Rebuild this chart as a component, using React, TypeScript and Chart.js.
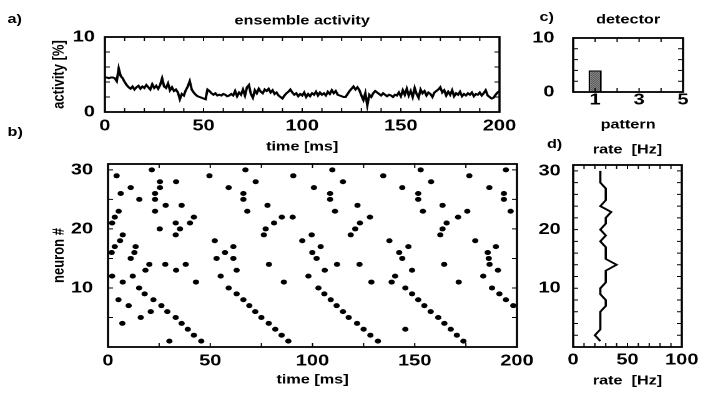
import React, { useEffect, useRef } from "react";
import { Chart, registerables } from "chart.js";

Chart.register(...registerables);

const FONT = '"Liberation Sans", Arial, Helvetica, sans-serif';
const W = 575;
const H = 398;
const STRETCH = 718 / W;

// ---------- a) ensemble activity (1 ms steps, 0..200 ms) ----------
const activityPct = [
  4.6, 4.6, 4.5, 4.6, 4.6, 4.5, 4.1, 5.8, 4.8, 4.5,
  4.0, 3.6, 3.3, 3.1, 3.4, 3.0, 3.3, 3.5, 3.1, 3.4,
  3.2, 3.6, 3.3, 3.0, 3.7, 3.2, 3.5, 3.1, 3.6, 4.5,
  3.4, 3.2, 3.8, 2.9, 3.3, 2.8, 3.0, 2.6, 1.7, 2.4,
  2.2, 2.9, 3.4, 4.1, 3.0, 2.6, 2.3, 2.1, 2.0, 1.9,
  1.8, 1.7, 3.0, 2.8, 2.5, 2.3, 2.5, 2.2, 2.3, 2.2,
  2.4, 2.3, 2.1, 2.2, 2.4, 2.2, 2.8, 2.1, 2.6, 2.3,
  3.0, 2.2, 3.3, 3.6, 2.4, 1.9, 2.9, 2.5, 3.1, 2.7,
  2.5, 3.0, 2.8, 3.1, 2.6, 2.9, 2.4, 2.6, 2.2, 2.0,
  1.8, 2.2, 2.5, 2.7, 3.0, 2.6, 2.3, 2.5, 2.1, 2.4,
  2.2, 2.6, 2.0, 2.4, 2.1, 2.5, 2.3, 2.7, 2.2, 2.6,
  2.3, 2.5, 2.2, 2.7, 2.4, 2.9, 2.5, 2.8, 2.3, 2.2,
  2.1, 2.0, 2.0, 2.4, 2.8, 3.1, 3.4, 3.0, 3.3, 2.9,
  2.2, 1.6, 2.5, 0.9, 2.3, 2.0, 2.5, 2.8, 2.6, 2.4,
  2.2, 2.5, 2.3, 2.1, 2.3, 2.2, 2.0, 2.3, 2.2, 2.6,
  2.1, 2.9, 2.3, 3.1, 2.2, 2.8, 2.0, 3.2, 2.4, 1.9,
  3.0, 2.5, 2.8, 2.2, 2.6, 2.4, 2.0, 2.6, 2.8, 3.0,
  3.3, 2.6, 2.9, 2.2, 2.7, 2.3, 2.9, 2.1, 2.5, 2.3,
  2.7, 2.1, 2.4, 2.2, 2.5, 2.3, 2.6, 2.1, 2.4, 2.3,
  2.6, 2.2, 2.5, 2.9, 2.2, 2.0, 1.8, 1.9, 2.3, 2.6,
  2.8,
];
const timeMs = activityPct.map((_, i) => i);
const timeTicks = [0, 50, 100, 150, 200];
const activityTicks = [0, 10];

// ---------- b) raster: spike times (ms) for neurons 1..30 ----------
const neuronIds = [
  1, 2, 3, 4, 5, 6, 7, 8, 9, 10, 11, 12, 13, 14, 15,
  16, 17, 18, 19, 20, 21, 22, 23, 24, 25, 26, 27, 28, 29, 30,
];
const spikeTimes = [
  [30, 45.6, 88.2, 132, 173.8],
  [42, 84.9, 128.3, 170.6],
  [39, 81.8, 125, 145.4, 167.6],
  [7, 36, 78.6, 121.8, 164.5],
  [16, 33.1, 75, 117.7, 161.5],
  [20.9, 29, 72, 114.9, 157.8],
  [10.1, 26.1, 69.1, 111.8, 154.7, 198.2],
  [5.1, 22.2, 66.2, 108.9, 151.7, 194.6],
  [17.9, 62.9, 105.8, 148.7, 191.4],
  [15.2, 59, 102.9, 145.4, 187.8],
  [7.2, 43, 86, 128.8, 138.7, 171.5],
  [2, 12.1, 55.1, 98, 140.4, 183.5],
  [18.3, 33.3, 62.9, 106, 148.7, 190.7],
  [20.2, 28, 38, 78.7, 112, 123, 164.4, 186.6],
  [11.1, 53.1, 61.3, 102, 143.9, 186.2],
  [1.8, 12.9, 57.2, 99.9, 142.4, 185.7],
  [3.3, 13.5, 61.3, 104, 146.9, 189.7],
  [5.9, 52.2, 95, 137.6, 179.6],
  [7.2, 33.1, 76.2, 99.6, 118.7, 162.5],
  [25.3, 35.2, 77.1, 120.9, 163.6],
  [2, 33.1, 40.1, 81.2, 123.2, 165.6],
  [3.3, 42, 85, 90.3, 128.1, 171.2],
  [5.2, 23, 68.1, 111, 154, 175.7, 196.9],
  [28.2, 36, 78, 122, 163.6],
  [15.3, 23, 66.2, 108.6, 151.7, 193.6],
  [6.2, 23, 66.2, 108.6, 151.7, 193.6],
  [11.1, 25.4, 59, 100.7, 143.9, 186.5],
  [25.4, 33.3, 72.2, 114.9, 158],
  [4.2, 49.6, 90.6, 134.6, 176.7],
  [21.4, 67.2, 109.7, 152.9, 194.6],
];
const neuronTicks = [10, 20, 30];

// ---------- c) detector ----------
const patterns = [1, 2, 3, 4, 5];
const detectorValues = [4, 0, 0, 0, 0];
const patternTicks = [1, 3, 5];
const detectorTicks = [0, 10];

// ---------- d) rate per neuron (Hz) ----------
const rateHz = [
  25, 20, 25, 25, 25, 25, 30, 30, 25, 25, 30, 30, 30, 40, 30,
  30, 30, 25, 30, 25, 30, 30, 35, 25, 30, 30, 30, 25, 25, 25,
];
const rateTicks = [0, 50, 100];

// ---------- helpers ----------
const tickFont = { family: FONT, size: 16, weight: "bold", lineHeight: 1 };
const titleFont = { family: FONT, size: 13, weight: "bold", lineHeight: 1.2 };

function fixTicks(list: number[]) {
  return (scale: any) => {
    scale.ticks = list.map((value) => ({ value }));
  };
}
function fixSize(dim: "width" | "height", size: number) {
  return (scale: any) => {
    scale[dim] = size;
    scale.paddingLeft = 0;
    scale.paddingRight = 0;
    scale.paddingTop = 0;
    scale.paddingBottom = 0;
  };
}

function xScale(min: number, max: number, ticks: number[], size: number, tickPad: number, title: string, titlePad: number) {
  return {
    type: "linear",
    position: "bottom",
    min,
    max,
    offset: false,
    grid: { display: false, drawTicks: false },
    border: { display: false },
    ticks: { font: tickFont, color: "#000", padding: tickPad, autoSkip: false, maxRotation: 0, minRotation: 0 },
    title: { display: true, text: title, font: titleFont, color: "#000", padding: { top: 0, bottom: titlePad } },
    afterBuildTicks: fixTicks(ticks),
    afterFit: fixSize("height", size),
  };
}
function yScale(min: number, max: number, ticks: number[], size: number, tickPad: number, title: string | null, titlePad: number) {
  return {
    type: "linear",
    position: "left",
    min,
    max,
    grid: { display: false, drawTicks: false },
    border: { display: false },
    ticks: { font: tickFont, color: "#000", padding: tickPad, autoSkip: false },
    title: title
      ? { display: true, text: title, font: titleFont, color: "#000", padding: { top: titlePad, bottom: 0 } }
      : { display: false },
    afterBuildTicks: fixTicks(ticks),
    afterFit: fixSize("width", size),
  };
}

const framePlugin = {
  id: "frame",
  afterDraw(chart: any, _args: any, opts: any) {
    const { ctx, chartArea } = chart;
    const { left, right, top, bottom } = chartArea;
    const xs = chart.scales.x;
    const ys = chart.scales.y;
    ctx.save();
    ctx.strokeStyle = "#000";
    ctx.lineWidth = 1;
    const tl = 4;
    if (opts.xStep) {
      const n = Math.floor((xs.max - xs.min) / opts.xStep + 1e-9);
      for (let i = 0; i <= n; i++) {
        const px = xs.getPixelForValue(xs.min + i * opts.xStep);
        ctx.beginPath();
        ctx.moveTo(px, bottom);
        ctx.lineTo(px, bottom - tl);
        ctx.moveTo(px, top);
        ctx.lineTo(px, top + tl);
        ctx.stroke();
      }
    }
    if (opts.yStep) {
      const n = Math.floor((ys.max - ys.min) / opts.yStep + 1e-9);
      for (let i = 0; i <= n; i++) {
        const py = ys.getPixelForValue(ys.min + i * opts.yStep);
        ctx.beginPath();
        ctx.moveTo(left, py);
        ctx.lineTo(left + tl, py);
        ctx.moveTo(right, py);
        ctx.lineTo(right - tl, py);
        ctx.stroke();
      }
    }
    ctx.lineWidth = 1.8;
    ctx.strokeRect(left, top, right - left, bottom - top);
    if (opts.title) {
      ctx.fillStyle = "#000";
      ctx.font = `bold 13px ${FONT}`;
      ctx.textAlign = "center";
      ctx.textBaseline = "middle";
      ctx.fillText(opts.title, (left + right) / 2, opts.titleY);
    }
    ctx.restore();
  },
};

function baseOptions(padding: any, frame: any) {
  return {
    responsive: false,
    maintainAspectRatio: false,
    devicePixelRatio: 2,
    animation: false,
    events: [],
    layout: { padding },
    plugins: {
      legend: { display: false },
      tooltip: { enabled: false },
      title: { display: false },
      frame,
    },
  };
}

export default function App() {
  const refA = useRef<HTMLCanvasElement>(null);
  const refB = useRef<HTMLCanvasElement>(null);
  const refC = useRef<HTMLCanvasElement>(null);
  const refD = useRef<HTMLCanvasElement>(null);

  useEffect(() => {
    const pc = document.createElement("canvas");
    pc.width = 2;
    pc.height = 2;
    const g = pc.getContext("2d")!;
    g.fillStyle = "#c8c8c8";
    g.fillRect(0, 0, 2, 2);
    g.fillStyle = "#1a1a1a";
    g.fillRect(0, 0, 1, 1);
    g.fillRect(1, 1, 1, 1);
    const stipple = g.createPattern(pc, "repeat");

    const chartA = new Chart(refA.current!, {
      type: "line",
      data: {
        datasets: [
          {
            data: activityPct.map((v, i) => ({ x: timeMs[i], y: v })),
            borderColor: "#000",
            borderWidth: 2,
            pointRadius: 0,
            tension: 0,
            fill: false,
          },
        ],
      },
      options: {
        ...baseOptions({ left: 34, right: 175, top: 37, bottom: 236 }, { xStep: 10, yStep: 2, title: "ensemble activity", titleY: 21 }),
        scales: {
          x: xScale(0, 200, timeTicks, 50, 6, "time [ms]", 7.2),
          y: yScale(0, 10, activityTicks, 50, 8, "activity [%]", 5.4),
        },
      } as any,
      plugins: [framePlugin],
    } as any);

    const chartB = new Chart(refB.current!, {
      type: "scatter",
      data: {
        datasets: [
          {
            data: spikeTimes.flatMap((ts, i) => ts.map((t) => ({ x: t, y: neuronIds[i] }))),
            backgroundColor: "#000",
            borderWidth: 0,
            pointRadius: 2.5,
          },
        ],
      },
      options: {
        ...baseOptions({ left: 36.5, right: 161, top: 164, bottom: 6 }, { xStep: 25, yStep: 5 }),
        scales: {
          x: xScale(0, 200, timeTicks, 45, 6, "time [ms]", 4.2),
          y: yScale(0, 31, neuronTicks, 50, 12, "neuron #", 3),
        },
      } as any,
      plugins: [framePlugin],
    } as any);

    const chartC = new Chart(refC.current!, {
      type: "bar",
      data: {
        datasets: [
          {
            data: patterns.map((p, i) => ({ x: p, y: detectorValues[i] })),
            backgroundColor: stipple,
            borderColor: "#000",
            borderWidth: 1.4,
            categoryPercentage: 1,
            barPercentage: 0.6,
          },
        ],
      },
      options: {
        ...baseOptions({ left: 419, right: 28, top: 38, bottom: 261 }, { xStep: 1, yStep: 2, title: "detector", titleY: 20 }),
        scales: {
          x: xScale(0, 5, patternTicks, 45, 0, "pattern", 4.2),
          y: yScale(0, 10, detectorTicks, 40, 15, null, 0),
        },
      } as any,
      plugins: [framePlugin],
    } as any);

    const chartD = new Chart(refD.current!, {
      type: "scatter",
      data: {
        datasets: [
          {
            data: rateHz.map((r, i) => ({ x: r, y: neuronIds[i] })),
            showLine: true,
            borderColor: "#000",
            borderWidth: 1.8,
            pointRadius: 0,
            tension: 0,
          },
        ],
      },
      options: {
        ...baseOptions({ left: 419, right: 29, top: 165, bottom: 6 }, { xStep: 10, yStep: 2, title: "rate  [Hz]", titleY: 150 }),
        scales: {
          x: xScale(0, 100, rateTicks, 45, 5, "rate  [Hz]", 3.2),
          y: yScale(0, 31, neuronTicks, 40, 10, null, 0),
        },
      } as any,
      plugins: [framePlugin],
    } as any);

    return () => {
      chartA.destroy();
      chartB.destroy();
      chartC.destroy();
      chartD.destroy();
    };
  }, []);

  const canvasStyle: React.CSSProperties = { position: "absolute", left: 0, top: 0, width: W, height: H };
  const letter = (l: number, t: number): React.CSSProperties => ({
    position: "absolute",
    left: l,
    top: t,
    font: `bold 13px ${FONT}`,
    lineHeight: "16px",
    color: "#000",
  });

  return (
    <div style={{ position: "fixed", left: 0, top: 0, width: 718, height: 398, background: "#fff", overflow: "hidden" }}>
      <div
        style={{
          position: "absolute",
          left: 0,
          top: 0,
          width: W,
          height: H,
          transform: `scaleX(${STRETCH})`,
          transformOrigin: "0 0",
        }}
      >
        <canvas ref={refA} width={W} height={H} style={canvasStyle} />
        <canvas ref={refB} width={W} height={H} style={canvasStyle} />
        <canvas ref={refC} width={W} height={H} style={canvasStyle} />
        <canvas ref={refD} width={W} height={H} style={canvasStyle} />
        <span style={letter(6, 11)}>a)</span>
        <span style={letter(6, 124)}>b)</span>
        <span style={letter(432, 9)}>c)</span>
        <span style={letter(438, 136)}>d)</span>
      </div>
    </div>
  );
}
